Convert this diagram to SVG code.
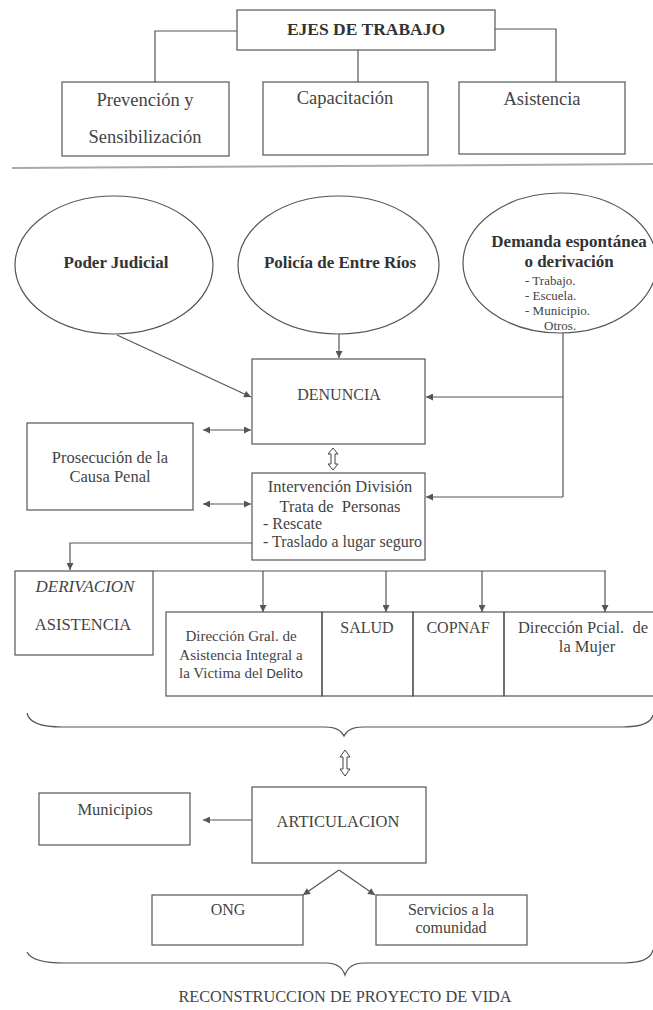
<svg xmlns="http://www.w3.org/2000/svg" width="653" height="1010" viewBox="0 0 653 1010">
<style>
  .bx{fill:none;stroke:#555;stroke-width:1.2}
  .el{fill:none;stroke:#555;stroke-width:1.2}
  .ln{fill:none;stroke:#555;stroke-width:1.2}
  .ar{fill:none;stroke:#555;stroke-width:1.2;marker-end:url(#ah)}
  .da{fill:none;stroke:#555;stroke-width:1.2;marker-start:url(#ah);marker-end:url(#ah)}
  .hol{fill:#fff;stroke:#444;stroke-width:1}
  .t{font-family:"Liberation Serif","Times New Roman",serif;fill:#444;text-anchor:middle}
  .tl{font-family:"Liberation Serif","Times New Roman",serif;fill:#444}
  .b{font-weight:bold;fill:#333}
</style>
<defs>
  <marker id="ah" viewBox="0 0 10 10" refX="10" refY="5" markerWidth="8" markerHeight="7" markerUnits="userSpaceOnUse" orient="auto-start-reverse">
    <path d="M0,0 L10,5 L0,10 z" fill="#555"/>
  </marker>
</defs>
<rect width="653" height="1010" fill="#fff"/>

<g id="connectors">
  <polyline class="ln" points="237,31 155,31 155,82"/>
  <line class="ln" x1="358" y1="50" x2="358" y2="82"/>
  <polyline class="ln" points="495,29 556,29 556,82"/>
  <line x1="12" y1="168" x2="653" y2="164" stroke="#aaa" stroke-width="2"/>
  <line class="ar" x1="117" y1="335" x2="251" y2="397"/>
  <line class="ar" x1="339" y1="334" x2="339" y2="358"/>
  <line class="ln" x1="563" y1="333" x2="563" y2="497"/>
  <line class="ar" x1="563" y1="397" x2="426" y2="397"/>
  <line class="ar" x1="563" y1="497" x2="426" y2="497"/>
  <line class="da" x1="203" y1="430" x2="251" y2="430"/>
  <line class="da" x1="203" y1="504" x2="251" y2="504"/>
  <path class="hol" d="M333,448 L338,454 L335,454 L335,464 L338,464 L333,470 L328,464 L331,464 L331,454 L328,454 Z"/>
  <polyline class="ar" points="252,543 70,543 70,570"/>
  <line class="ln" x1="153" y1="571" x2="606" y2="571"/>
  <line class="ar" x1="263" y1="571" x2="263" y2="612"/>
  <line class="ar" x1="386" y1="571" x2="386" y2="612"/>
  <line class="ar" x1="482" y1="571" x2="482" y2="612"/>
  <line class="ar" x1="605" y1="571" x2="605" y2="612"/>
  <path class="ln" d="M27,713 Q30,727 62,727 L325,727 Q340,727 344,736 Q348,727 363,727 L622,727 Q650,727 653,715"/>
  <path class="hol" d="M345,750 L350,757 L347,757 L347,769 L350,769 L345,776 L340,769 L343,769 L343,757 L340,757 Z"/>
  <line class="ar" x1="252" y1="820" x2="203" y2="820"/>
  <polyline class="ar" points="339,870 303,895"/>
  <polyline class="ar" points="339,870 375,895"/>
  <path class="ln" d="M27,952 Q32,963 65,963 L326,963 Q341,963 345,975 Q349,963 364,963 L624,963 Q650,963 653,950"/>
</g>

<g id="ejes"><rect class="bx" x="237" y="10" width="258" height="40"/><text class="t b" x="366" y="35" font-size="17.5">EJES DE TRABAJO</text></g>
<g id="prevencion"><rect class="bx" x="62" y="82" width="167" height="74"/><text class="t" x="145" y="106" font-size="18.5">Prevención y</text><text class="t" x="145" y="143" font-size="18.5">Sensibilización</text></g>
<g id="capacitacion"><rect class="bx" x="263" y="82" width="165" height="73"/><text class="t" x="345" y="104" font-size="18.5">Capacitación</text></g>
<g id="asistencia"><rect class="bx" x="459" y="82" width="166" height="72"/><text class="t" x="542" y="105" font-size="18.5">Asistencia</text></g>

<g id="poder"><ellipse class="el" cx="114" cy="265" rx="99" ry="69"/><text class="t b" x="116" y="268" font-size="17">Poder Judicial</text></g>
<g id="policia"><ellipse class="el" cx="338.5" cy="265" rx="100.5" ry="69"/><text class="t b" x="340" y="268" font-size="17">Policía de Entre Ríos</text></g>
<g id="demanda"><ellipse class="el" cx="560" cy="263" rx="97" ry="70"/>
  <text class="t b" x="569" y="247" font-size="17">Demanda espontánea</text>
  <text class="t b" x="569" y="267" font-size="17">o derivación</text>
  <text class="tl" x="525" y="285" font-size="13">- Trabajo.</text>
  <text class="tl" x="525" y="300" font-size="13">- Escuela.</text>
  <text class="tl" x="525" y="315" font-size="13">- Municipio.</text>
  <text class="tl" x="544" y="330" font-size="13">Otros.</text>
</g>

<g id="denuncia"><rect class="bx" x="252" y="359" width="173" height="85"/><text class="t" x="339" y="400" font-size="16">DENUNCIA</text></g>
<g id="prosecucion"><rect class="bx" x="27" y="423" width="166" height="87"/><text class="t" x="110" y="463" font-size="16.5">Prosecución de la</text><text class="t" x="110" y="482" font-size="16.5">Causa Penal</text></g>
<g id="intervencion"><rect class="bx" x="252" y="473" width="173" height="87"/>
  <text class="t" x="340" y="492" font-size="16.5">Intervención División</text>
  <text class="t" x="340" y="512" font-size="16.5" xml:space="preserve">Trata de  Personas</text>
  <text class="tl" x="263" y="529" font-size="16">- Rescate</text>
  <text class="tl" x="263" y="547" font-size="16">- Traslado a lugar seguro</text>
</g>

<g id="derivacion"><rect class="bx" x="15" y="571" width="138" height="84"/><text class="t" x="85" y="592" font-size="17" font-style="italic">DERIVACION</text><text class="t" x="83" y="630" font-size="16.5">ASISTENCIA</text></g>
<g id="direccion-gral"><rect class="bx" x="166" y="612" width="156" height="84"/>
  <text class="t" x="241" y="641" font-size="15">Dirección Gral. de</text>
  <text class="t" x="241" y="660" font-size="15">Asistencia Integral a</text>
  <text class="t" x="241" y="678" font-size="15">la Victima del <tspan font-family="Carlito,'Liberation Sans',sans-serif">Delito</tspan></text>
</g>
<g id="salud"><rect class="bx" x="322" y="612" width="91" height="84"/><text class="t" x="367" y="633" font-size="16">SALUD</text></g>
<g id="copnaf"><rect class="bx" x="413" y="612" width="91" height="84"/><text class="t" x="458" y="633" font-size="16">COPNAF</text></g>
<g id="direccion-mujer"><rect class="bx" x="504" y="612" width="160" height="84"/><text class="t" x="583" y="633" font-size="16.5" xml:space="preserve">Dirección Pcial.  de</text><text class="t" x="587" y="652" font-size="16.5">la Mujer</text></g>

<g id="articulacion"><rect class="bx" x="252" y="787" width="174" height="76"/><text class="t" x="338" y="827" font-size="16.5">ARTICULACION</text></g>
<g id="municipios"><rect class="bx" x="39" y="793" width="151" height="52"/><text class="t" x="115" y="815" font-size="16.5">Municipios</text></g>
<g id="ong"><rect class="bx" x="152" y="895" width="151" height="50"/><text class="t" x="228" y="915" font-size="16">ONG</text></g>
<g id="servicios"><rect class="bx" x="376" y="895" width="151" height="50"/><text class="t" x="451" y="915" font-size="16">Servicios a la</text><text class="t" x="451" y="933" font-size="16">comunidad</text></g>

<g id="reconstruccion"><text class="t" x="345" y="1002" font-size="16.3">RECONSTRUCCION DE PROYECTO DE VIDA</text></g>
</svg>
